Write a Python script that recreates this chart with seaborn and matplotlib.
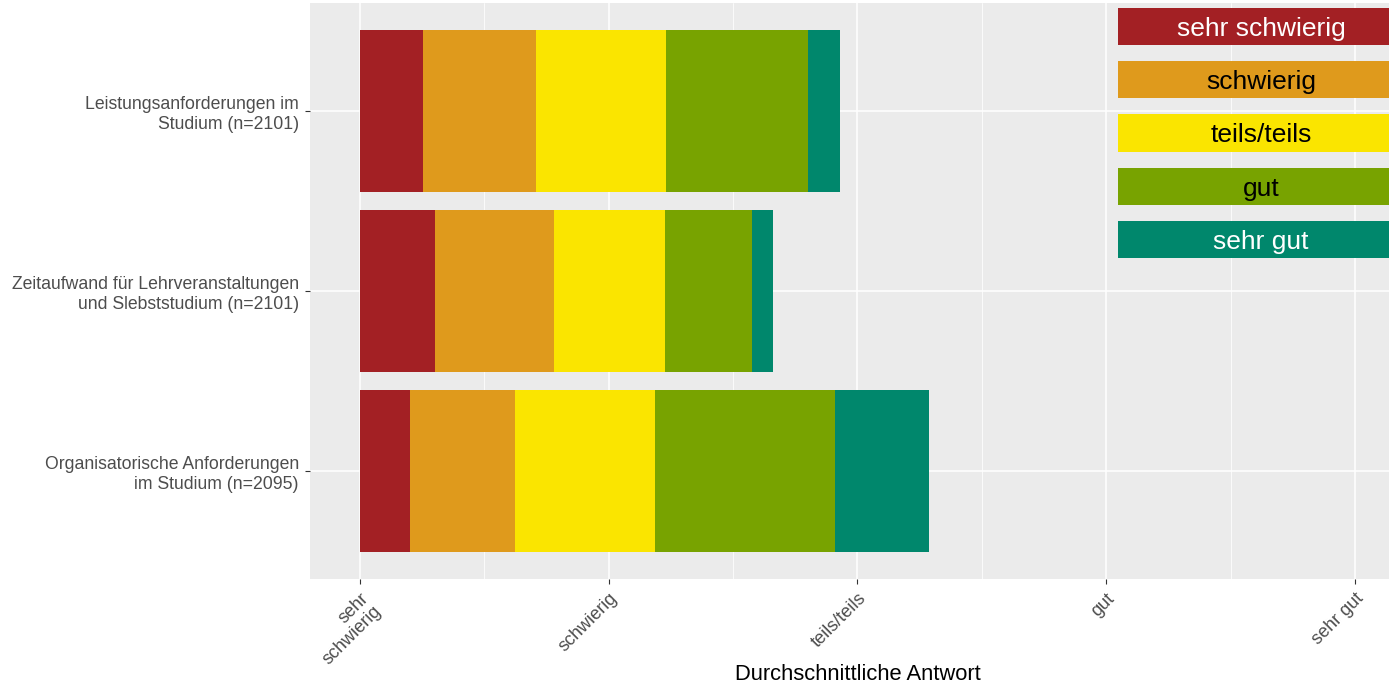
import matplotlib
matplotlib.use("Agg")
import matplotlib.pyplot as plt
from matplotlib.patches import Rectangle
import seaborn as sns

items = ["Leistungsanforderungen im\nStudium (n=2101)",
         "Zeitaufwand für Lehrveranstaltungen\nund Slebststudium (n=2101)",
         "Organisatorische Anforderungen\nim Studium (n=2095)"]
answers = ["sehr schwierig", "schwierig", "teils/teils", "gut", "sehr gut"]
tick_labels = ["sehr\nschwierig", "schwierig", "teils/teils", "gut", "sehr gut"]
tick_pos = [1, 2, 3, 4, 5]
colors = ["#A32024", "#DF9A1C", "#FAE500", "#78A300", "#00876C"]
text_colors = ["white", "black", "black", "black", "white"]

# length of each answer segment (scale units), one value per item
sehr_schwierig = [0.253, 0.304, 0.203]
schwierig = [0.456, 0.476, 0.420]
teils_teils = [0.522, 0.445, 0.565]
gut = [0.569, 0.350, 0.722]
sehr_gut = [0.129, 0.086, 0.378]
segments = [sehr_schwierig, schwierig, teils_teils, gut, sehr_gut]
start = 1

sns.set_theme(style="darkgrid", rc={"axes.facecolor": "#EBEBEB", "grid.color": "white"})
plt.rcParams["font.family"] = ["Liberation Sans", "DejaVu Sans"]

fig = plt.figure(figsize=(13.89, 6.86), dpi=100)
fig.patch.set_facecolor("white")
ax = fig.add_axes([310 / 1389, 1 - 579 / 686, 1095 / 1389, 576 / 686])

left = [start] * len(items)
for vals, col in zip(segments, colors):
    sns.barplot(x=vals, y=items, order=items, orient="y", color=col, left=left,
                width=0.9, saturation=1, errorbar=None, linewidth=0, ax=ax)
    left = [l + v for l, v in zip(left, vals)]

ax.set_xlim(0.8, 5.2)
ax.set_ylim(2.6, -0.6)
ax.set_xticks(tick_pos)
ax.set_xticklabels(tick_labels)
ax.set_xticks([1.5, 2.5, 3.5, 4.5], minor=True)
ax.grid(which="major", color="white", linewidth=1.1)
ax.grid(which="minor", axis="x", color="white", linewidth=0.55)
ax.set_axisbelow(True)
for s in ax.spines.values():
    s.set_visible(False)

ax.tick_params(axis="both", which="major", length=3.5, width=0.8, color="#333333",
               labelcolor="#4D4D4D", labelsize=12.7, pad=4.5, direction="out",
               left=True, bottom=True)
ax.tick_params(axis="x", which="minor", length=0)
ax.tick_params(axis="x", labelsize=13)
for lbl in ax.get_yticklabels():
    lbl.set_linespacing(1.2)
for lbl in ax.get_xticklabels():
    lbl.set_rotation(45)
    lbl.set_ha("right")
    lbl.set_rotation_mode("anchor")
    lbl.set_multialignment("right")
    lbl.set_linespacing(1.1)

ax.set_ylabel("")
ax.set_xlabel("Durchschnittliche Antwort", fontsize=15.8, color="black", va="center")
ax.xaxis.set_label_coords(0.5, (579 - 674) / 576)

# legend drawn as filled boxes with the label inside
box_x0 = 1118 / 1389
box_w = (1404 - 1118) / 1389
box_h = 37 / 686
for i, (lab, col, tc) in enumerate(zip(answers, colors, text_colors)):
    yc = 1 - (26.5 + i * 53.25) / 686
    fig.add_artist(Rectangle((box_x0, yc - box_h / 2), box_w, box_h,
                             transform=fig.transFigure, facecolor=col, edgecolor="none"))
    fig.text(box_x0 + box_w / 2, yc, lab, ha="center", va="center_baseline",
             fontsize=19, color=tc)

fig.savefig("out.png", dpi=100)
